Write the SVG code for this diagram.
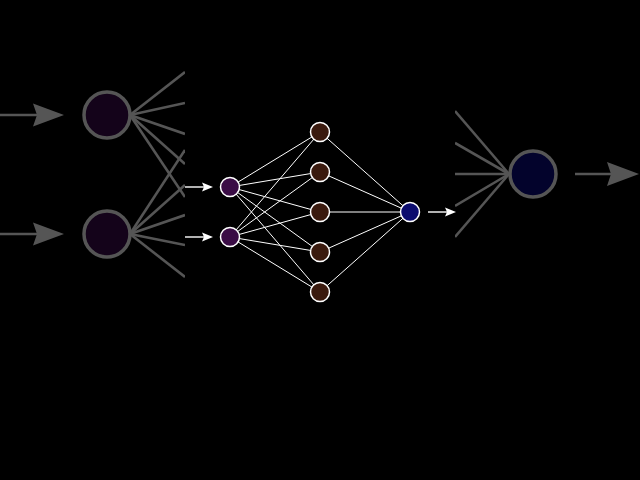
<svg xmlns="http://www.w3.org/2000/svg" width="640" height="480" viewBox="0 0 640 480">
<defs>
<style>
.gl{stroke:#555;stroke-width:2.6;fill:none}
.gn{stroke:#555;stroke-width:3.5}
.wl{stroke:#fff;stroke-width:1;fill:none}
.wa{stroke:#fff;stroke-width:1.4;fill:none}
.wn{stroke:#fff;stroke-width:1.5}
.inp{fill:#3a0c45}
.hid{fill:#3a1a0e}
.out{fill:#0c0c6e}
</style>
<clipPath id="cl"><rect x="0" y="0" width="185" height="480"/></clipPath>
<clipPath id="cr"><rect x="455" y="0" width="185" height="480"/></clipPath>
</defs>
<rect width="640" height="480" fill="#000"/>
<g id="connectors">
<g clip-path="url(#cl)">
<line class="gl" x1="0" y1="115" x2="40" y2="115"/>
<polygon points="33,103.5 64,115 33,126.5 37,115" fill="#555"/>
<line class="gl" x1="0" y1="234" x2="40" y2="234"/>
<polygon points="33,222.5 64,234 33,245.5 37,234" fill="#555"/>
<line class="gl" x1="130" y1="115" x2="185" y2="72"/>
<line class="gl" x1="130" y1="115" x2="185" y2="103"/>
<line class="gl" x1="130" y1="115" x2="185" y2="134"/>
<line class="gl" x1="130" y1="115" x2="185" y2="164"/>
<line class="gl" x1="130" y1="115" x2="185" y2="197"/>
<line class="gl" x1="130" y1="234" x2="185" y2="150"/>
<line class="gl" x1="130" y1="234" x2="185" y2="185"/>
<line class="gl" x1="130" y1="234" x2="185" y2="215"/>
<line class="gl" x1="130" y1="234" x2="185" y2="245"/>
<line class="gl" x1="130" y1="234" x2="185" y2="277"/>
</g>
<g clip-path="url(#cr)">
<line class="gl" x1="455" y1="111" x2="509" y2="174"/>
<line class="gl" x1="455" y1="143" x2="509" y2="174"/>
<line class="gl" x1="455" y1="174" x2="509" y2="174"/>
<line class="gl" x1="455" y1="206" x2="509" y2="174"/>
<line class="gl" x1="455" y1="237" x2="509" y2="174"/>
<line class="gl" x1="575" y1="174" x2="612" y2="174"/>
<polygon points="607,162 639,174 607,186 611,174" fill="#555"/>
</g>
<line class="wa" x1="185" y1="187" x2="205" y2="187"/>
<polygon points="202,182.5 213,187 202,191.5 204,187" fill="#fff"/>
<line class="wa" x1="185" y1="237" x2="205" y2="237"/>
<polygon points="202,232.5 213,237 202,241.5 204,237" fill="#fff"/>
<line class="wa" x1="428" y1="212" x2="448" y2="212"/>
<polygon points="445,207.5 456,212 445,216.5 447,212" fill="#fff"/>
<line class="wl" x1="230" y1="187" x2="320" y2="132"/>
<line class="wl" x1="230" y1="187" x2="320" y2="172"/>
<line class="wl" x1="230" y1="187" x2="320" y2="212"/>
<line class="wl" x1="230" y1="187" x2="320" y2="252"/>
<line class="wl" x1="230" y1="187" x2="320" y2="292"/>
<line class="wl" x1="230" y1="237" x2="320" y2="132"/>
<line class="wl" x1="230" y1="237" x2="320" y2="172"/>
<line class="wl" x1="230" y1="237" x2="320" y2="212"/>
<line class="wl" x1="230" y1="237" x2="320" y2="252"/>
<line class="wl" x1="230" y1="237" x2="320" y2="292"/>
<line class="wl" x1="320" y1="132" x2="410" y2="212"/>
<line class="wl" x1="320" y1="172" x2="410" y2="212"/>
<line class="wl" x1="320" y1="212" x2="410" y2="212"/>
<line class="wl" x1="320" y1="252" x2="410" y2="212"/>
<line class="wl" x1="320" y1="292" x2="410" y2="212"/>
</g>
<g id="zoom-in-1"><circle class="gn" cx="107" cy="115" r="23" fill="#14031a"/></g>
<g id="zoom-in-2"><circle class="gn" cx="107" cy="234" r="23" fill="#14031a"/></g>
<g id="zoom-out"><circle class="gn" cx="533" cy="174" r="23" fill="#03032c"/></g>
<g id="in-1"><circle class="wn inp" cx="230" cy="187" r="9.5"/></g>
<g id="in-2"><circle class="wn inp" cx="230" cy="237" r="9.5"/></g>
<g id="h-1"><circle class="wn hid" cx="320" cy="132" r="9.5"/></g>
<g id="h-2"><circle class="wn hid" cx="320" cy="172" r="9.5"/></g>
<g id="h-3"><circle class="wn hid" cx="320" cy="212" r="9.5"/></g>
<g id="h-4"><circle class="wn hid" cx="320" cy="252" r="9.5"/></g>
<g id="h-5"><circle class="wn hid" cx="320" cy="292" r="9.5"/></g>
<g id="out"><circle class="wn out" cx="410" cy="212" r="9.5"/></g>
</svg>
